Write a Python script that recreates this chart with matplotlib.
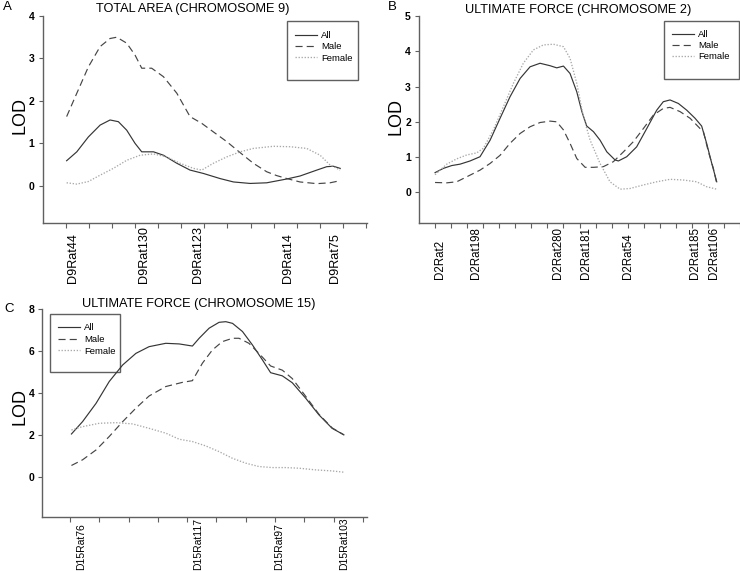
import matplotlib
matplotlib.use('Agg')
import matplotlib.pyplot as plt
from matplotlib.patches import Rectangle

plt.rcParams['font.family'] = ['Liberation Sans', 'DejaVu Sans']

W, H = 740, 571
fig = plt.figure(figsize=(W / 100, H / 100), dpi=100)

# ---------------- Panel A : TOTAL AREA (CHROMOSOME 9) ----------------
a_title = "TOTAL AREA (CHROMOSOME 9)"
a_markers = ["D9Rat44", "D9Rat130", "D9Rat123", "D9Rat14", "D9Rat75"]
a_marker_pos = [3.2, 34.0, 57.4, 96.0, 116.5]
a_all_x = [0.4, 4.8, 9.8, 14.9, 19.2, 22.8, 26.4, 30.0, 32.9, 38.0, 42.3, 48.1, 53.8, 59.6,
           66.8, 72.6, 79.8, 87.0, 95.7, 101.4, 108.7, 113.0, 115.9, 118.8]
a_all_y = [0.59, 0.80, 1.15, 1.43, 1.55, 1.51, 1.31, 1.00, 0.80, 0.80, 0.72, 0.53, 0.37, 0.29,
           0.17, 0.09, 0.055, 0.07, 0.16, 0.23, 0.37, 0.45, 0.46, 0.41]
a_male_x = [0.4, 4.8, 9.8, 14.9, 19.2, 22.1, 26.4, 30.0, 32.9, 37.2, 42.3, 48.1, 53.8, 58.9,
            63.9, 69.7, 75.5, 81.2, 87.0, 91.3, 95.7, 101.4, 108.7, 114.4, 118.8]
a_male_y = [1.63, 2.18, 2.80, 3.28, 3.47, 3.50, 3.36, 3.08, 2.77, 2.77, 2.57, 2.18, 1.63, 1.47,
            1.27, 1.04, 0.78, 0.53, 0.33, 0.24, 0.17, 0.09, 0.05, 0.07, 0.12]
a_fem_x = [0.4, 4.8, 9.8, 14.9, 20.6, 26.4, 32.2, 38.0, 43.7, 49.5, 55.3, 58.9, 63.9, 69.7,
           75.5, 81.2, 89.9, 97.1, 104.3, 110.1, 114.4, 118.8]
a_fem_y = [0.07, 0.04, 0.10, 0.25, 0.41, 0.60, 0.72, 0.75, 0.68, 0.53, 0.41, 0.37, 0.53, 0.68,
           0.80, 0.88, 0.93, 0.92, 0.88, 0.72, 0.49, 0.37]
a_yticks = [0, 1, 2, 3, 4]

# ---------------- Panel B : ULTIMATE FORCE (CHROMOSOME 2) ----------------
b_title = "ULTIMATE FORCE (CHROMOSOME 2)"
b_markers = ["D2Rat2", "D2Rat198", "D2Rat280", "D2Rat181", "D2Rat54", "D2Rat185", "D2Rat106"]
b_marker_pos = [2.8, 25.5, 76.3, 94.2, 120.2, 162.1, 173.6]
b_all_x = [0, 5.2, 10.4, 15.6, 21.8, 28.0, 34.3, 40.5, 46.7, 53.0, 59.2, 65.4, 71.7, 75.8, 80.0,
           84.1, 88.3, 91.4, 94.5, 98.7, 102.8, 107.0, 112.1, 114.2, 119.4, 125.6, 131.9, 138.1,
           142.2, 146.4, 151.6, 156.8, 162.0, 166.1, 169.2, 172.4, 175.5]
b_all_y = [0.56, 0.68, 0.76, 0.80, 0.89, 1.01, 1.48, 2.10, 2.71, 3.23, 3.56, 3.66, 3.59, 3.53, 3.58,
           3.37, 2.85, 2.30, 1.88, 1.72, 1.48, 1.15, 0.92, 0.89, 1.01, 1.29, 1.81, 2.33,
           2.57, 2.62, 2.52, 2.33, 2.10, 1.88, 1.39, 0.82, 0.30]
b_male_x = [0, 7.3, 13.5, 19.7, 28.0, 34.3, 40.5, 46.7, 53.0, 59.2, 65.4, 71.7, 75.8, 80.0, 84.1,
            88.3, 93.5, 98.7, 104.9, 111.1, 117.4, 123.6, 129.8, 136.0, 142.2, 146.4, 152.6,
            158.9, 165.1, 167.2, 170.3, 173.4, 175.5]
b_male_y = [0.28, 0.27, 0.30, 0.44, 0.63, 0.82, 1.05, 1.39, 1.67, 1.86, 1.98, 2.02, 2.00, 1.77, 1.39,
            0.96, 0.71, 0.71, 0.73, 0.87, 1.15, 1.44, 1.81, 2.19, 2.38, 2.41, 2.29,
            2.10, 1.81, 1.72, 1.15, 0.68, 0.25]
b_fem_x = [0, 7.3, 13.5, 19.7, 26.0, 30.1, 36.3, 42.6, 48.8, 55.0, 61.3, 67.5, 73.7, 80.0, 84.1,
           88.3, 92.4, 96.6, 102.8, 109.0, 115.3, 121.5, 129.8, 138.1, 146.4, 154.7, 163.0,
           169.2, 175.5]
b_fem_y = [0.50, 0.80, 0.95, 1.06, 1.12, 1.25, 1.77, 2.43, 3.09, 3.66, 4.04, 4.18, 4.20, 4.13, 3.80,
           3.09, 2.15, 1.48, 0.82, 0.30, 0.09, 0.11, 0.21, 0.30, 0.37, 0.35, 0.30,
           0.16, 0.09]
b_yticks = [0, 1, 2, 3, 4, 5]

# ---------------- Panel C : ULTIMATE FORCE (CHROMOSOME 15) ----------------
c_title = "ULTIMATE FORCE (CHROMOSOME 15)"
c_markers = ["D15Rat76", "D15Rat117", "D15Rat97", "D15Rat103"]
c_marker_pos = [3.8, 43.6, 71.4, 93.7]
c_all_x = [0.5, 4.3, 8.9, 13.4, 18.0, 22.5, 27.0, 32.7, 37.3, 41.8, 44.1, 47.5, 50.9, 53.2, 55.5,
           58.9, 62.3, 65.7, 68.5, 72.5, 75.9, 80.5, 85.0, 89.5, 93.5]
c_all_y = [2.06, 2.65, 3.52, 4.56, 5.35, 5.90, 6.22, 6.38, 6.35, 6.25, 6.62, 7.10, 7.38, 7.41, 7.33,
           6.94, 6.30, 5.59, 4.98, 4.83, 4.50, 3.76, 2.97, 2.33, 2.02]
c_male_x = [0.5, 4.3, 8.9, 13.4, 18.0, 22.5, 27.0, 32.7, 38.4, 41.8, 45.2, 48.6, 52.0, 55.5, 57.7,
            61.1, 64.5, 68.5, 72.5, 75.9, 80.5, 85.0, 89.5, 93.5]
c_male_y = [0.56, 0.83, 1.30, 1.94, 2.65, 3.29, 3.87, 4.32, 4.52, 4.60, 5.43, 6.06, 6.46, 6.62, 6.62,
            6.38, 5.90, 5.30, 5.10, 4.70, 3.85, 3.00, 2.35, 2.02]
c_fem_x = [0.5, 4.3, 10.0, 15.7, 21.4, 27.0, 32.7, 37.3, 41.8, 46.4, 50.9, 55.5, 60.0, 64.5, 69.1,
           73.6, 78.2, 83.9, 89.5, 93.5]
c_fem_y = [2.25, 2.41, 2.57, 2.60, 2.54, 2.33, 2.10, 1.81, 1.70, 1.49, 1.22, 0.90, 0.67, 0.51, 0.46,
           0.46, 0.43, 0.35, 0.30, 0.24]
c_yticks = [0, 2, 4, 6, 8]

series_names = ["All", "Male", "Female"]

GRAY = '#606060'
STY = [dict(color='#353535', lw=0.85, ls='-'),
       dict(color='#454545', lw=0.85, ls=(0, (6, 3.5))),
       dict(color='#a8a8a8', lw=0.95, ls=(0, (1, 1.3)))]


def rect(l, t, r, b):
    return [l / W, 1 - b / H, (r - l) / W, (b - t) / H]


def panel(pos, xlim, ylim, yticks, minor, mpos, mnames, lab_fs, lab_pad_px,
          series, leg_anchor, leg_box, leg_spacing):
    ax = fig.add_axes(rect(*pos))
    for (xs, ys), st, nm in zip(series, STY, series_names):
        ax.plot(xs, ys, label=nm, **st)
    ax.set_xlim(*xlim)
    ax.set_ylim(*ylim)
    for s in ['top', 'right']:
        ax.spines[s].set_visible(False)
    for s in ['left', 'bottom']:
        ax.spines[s].set_color(GRAY)
        ax.spines[s].set_linewidth(1.0)
    ax.set_yticks(yticks)
    ax.set_yticklabels([str(v) for v in yticks], fontsize=7.5, fontweight='bold')
    ax.tick_params(axis='y', length=2.9, width=0.8, color=GRAY, pad=2.9)
    ax.set_xticks(mpos)
    ax.set_xticklabels(mnames, rotation=90, va='bottom', ha='center', fontsize=lab_fs)
    ax.tick_params(axis='x', which='major', length=0, pad=lab_pad_px * 0.72)
    ax.set_xticks(minor, minor=True)
    ax.tick_params(axis='x', which='minor', length=3.4, width=0.8, color=GRAY, direction='out')
    ax.legend(loc='upper left', bbox_to_anchor=leg_anchor, frameon=False, fontsize=6.8,
              handlelength=2.3, handletextpad=0.45, labelspacing=leg_spacing,
              borderpad=0, borderaxespad=0)
    x0, y0, x1, y1 = leg_box
    ax.add_patch(Rectangle((x0, y0), x1 - x0, y1 - y0, transform=ax.transAxes,
                           fill=False, ec=GRAY, lw=1.0, clip_on=False))
    return ax


panel((42.6, 16, 367, 222.7), (-10, 130.4), (-0.87, 4), a_yticks, list(range(0, 131, 10)),
      a_marker_pos, a_markers, 9.1, 60.3,
      [(a_all_x, a_all_y), (a_male_x, a_male_y), (a_fem_x, a_fem_y)],
      (0.778, 0.928), (0.7534, 0.6904, 0.9723, 0.9758), 0.25)

panel((419, 16, 740.5, 222.7), (-10, 190.3), (-0.86, 5), b_yticks, list(range(0, 191, 10)),
      b_marker_pos, b_markers, 8.3, 56.3,
      [(b_all_x, b_all_y), (b_male_x, b_male_y), (b_fem_x, b_fem_y)],
      (0.787, 0.933), (0.762, 0.6952, 0.9953, 0.9758), 0.23)

panel((42.3, 309.3, 366.7, 516.7), (-9.45, 101.3), (-1.88, 8), c_yticks, list(range(0, 101, 10)),
      c_marker_pos, c_markers, 7.5, 53.3,
      [(c_all_x, c_all_y), (c_male_x, c_male_y), (c_fem_x, c_fem_y)],
      (0.0484, 0.932), (0.0237, 0.699, 0.2395, 0.977), 0.27)

# titles, panel letters, axis labels
for txt, cx, by in [(a_title, 193, 11.7), (b_title, 578, 12.7), (c_title, 198.3, 306.7)]:
    fig.text(cx / W, 1 - by / H, txt, ha='center', va='baseline', fontsize=9.2)
for txt, lx, by in [("A", 3.3, 10.5), ("B", 388.3, 10.0), ("C", 4.0, 311.5)]:
    fig.text(lx / W, 1 - by / H, txt, ha='left', va='baseline', fontsize=9.5)
for bx, cy in [(24, 115.8), (400, 116.7), (24, 406.7)]:
    fig.text(bx / W, 1 - cy / H, "LOD", rotation=90, rotation_mode='anchor',
             ha='center', va='baseline', fontsize=13)

fig.savefig('out.png', dpi=100)
